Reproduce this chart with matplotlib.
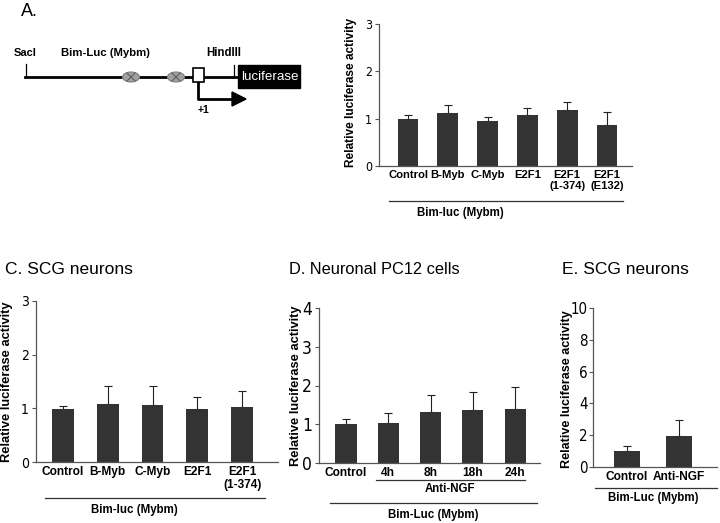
import numpy as np
import matplotlib
matplotlib.use("Agg")
import matplotlib.pyplot as plt
from matplotlib.patches import Ellipse, Rectangle, Polygon

# ---- data ----
a_labels = ["Control", "B-Myb", "C-Myb", "E2F1", "E2F1\n(1-374)", "E2F1\n(E132)"]
a_means = [1.00, 1.13, 0.95, 1.08, 1.18, 0.87]
a_errs = [0.08, 0.15, 0.08, 0.14, 0.18, 0.28]

c_labels = ["Control", "B-Myb", "C-Myb", "E2F1", "E2F1\n(1-374)"]
c_means = [0.99, 1.09, 1.07, 0.99, 1.03]
c_errs = [0.05, 0.32, 0.35, 0.22, 0.30]

d_labels = ["Control", "4h", "8h", "18h", "24h"]
d_means = [1.00, 1.03, 1.31, 1.37, 1.40]
d_errs = [0.13, 0.25, 0.44, 0.46, 0.57]

e_labels = ["Control", "Anti-NGF"]
e_means = [1.00, 1.97]
e_errs = [0.35, 0.98]

W, H = 720, 523
BAR = "#333333"
AX = "#555555"
BOLD = dict(family="Liberation Sans", weight="bold")

fig = plt.figure(figsize=(W / 100, H / 100), dpi=100)


def px_axes(left, right, top, bottom):
    return fig.add_axes([left / W, 1 - bottom / H, (right - left) / W, (bottom - top) / H])


def bar_panel(ax, labels, means, errs, ymax, yticks, xlim, width=0.5,
              ylab_size=9, tick_size=10, cat_size=8.7):
    x = np.arange(len(labels))
    ax.bar(x, means, width=width, color=BAR, zorder=2)
    ax.errorbar(x, means, yerr=[np.zeros(len(errs)), errs], fmt="none",
                ecolor="#222222", elinewidth=0.8, capsize=3, capthick=0.8, zorder=1)
    ax.set_xlim(*xlim)
    ax.set_ylim(0, ymax)
    ax.set_yticks(yticks)
    ax.set_yticklabels([str(v) for v in yticks], family="DejaVu Sans",
                       stretch="condensed", fontsize=tick_size)
    ax.set_xticks(x)
    ax.set_xticklabels(labels, fontsize=cat_size, linespacing=1.1, **BOLD)
    ax.tick_params(axis="x", length=0, pad=3)
    ax.tick_params(axis="y", length=3, width=0.8, color=AX, pad=2)
    for s in ["top", "right"]:
        ax.spines[s].set_visible(False)
    for s in ["left", "bottom"]:
        ax.spines[s].set_color(AX)
        ax.spines[s].set_linewidth(0.9)
    ax.set_ylabel("Relative luciferase activity", fontsize=ylab_size, **BOLD)


# panel A chart
axA = px_axes(379, 632, 24, 166)
bar_panel(axA, a_labels, a_means, a_errs, 3, [0, 1, 2, 3], (-0.73, 5.63), 0.52,
          ylab_size=8.6, tick_size=8.8, cat_size=8.1)
axA.yaxis.set_label_coords(-0.087, 0.52)

# panel C
axC = px_axes(36, 278, 301, 462)
bar_panel(axC, c_labels, c_means, c_errs, 3, [0, 1, 2, 3], (-0.6, 4.8), 0.49,
          ylab_size=9.3, tick_size=10, cat_size=8.6)
axC.yaxis.set_label_coords(-0.095, 0.5)

# panel D
axD = px_axes(319, 540, 308, 463)
bar_panel(axD, d_labels, d_means, d_errs, 4, [0, 1, 2, 3, 4], (-0.64, 4.59), 0.5,
          ylab_size=9.3, tick_size=12.5, cat_size=8.6)
axD.yaxis.set_label_coords(-0.077, 0.5)

# panel E
axE = px_axes(593, 717, 308, 467)
bar_panel(axE, e_labels, e_means, e_errs, 10, [0, 2, 4, 6, 8, 10], (-0.65, 1.73), 0.5,
          ylab_size=9.1, tick_size=10.8, cat_size=8.6)
axE.tick_params(axis="y", pad=1)
axE.yaxis.set_label_coords(-0.16, 0.49)

# overlay in pixel units for diagram, titles and group lines
ov = fig.add_axes([0, 0, 1, 1], zorder=5)
ov.set_xlim(0, W)
ov.set_ylim(H, 0)
ov.axis("off")
ov.patch.set_alpha(0)

# promoter diagram
ov.text(21, 12, "A.", fontsize=13, family="Liberation Sans", va="center")
ov.plot([25, 238], [77, 77], color="black", lw=2)
ov.plot([26, 26], [64, 77], color="black", lw=0.9)
ov.plot([234, 234], [65, 77], color="black", lw=0.9)
ov.text(14, 53, "SacI", fontsize=8, va="center", **BOLD)
ov.text(61, 53, "Bim-Luc (Mybm)", fontsize=8.2, va="center", **BOLD)
ov.text(206, 53, "HindIII", fontsize=8.3, va="center", **BOLD)
for cx in (131, 176):
    ov.add_patch(Ellipse((cx, 77), 17, 10, fc="#a0a0a0", ec="#808080", lw=0.8, zorder=3))
    ov.plot([cx - 4, cx + 4], [73, 81], color="#555555", lw=0.7, zorder=4)
    ov.plot([cx - 4, cx + 4], [81, 73], color="#555555", lw=0.7, zorder=4)
ov.plot([198, 198, 236], [82, 99, 99], color="black", lw=2)
ov.add_patch(Polygon([(232, 92), (246, 99), (232, 106)], closed=True, fc="black", ec="black"))
ov.add_patch(Rectangle((193, 68), 11, 14, fc="white", ec="black", lw=1.2, zorder=3))
ov.text(198, 110, "+1", fontsize=7.5, va="center", ha="left", **BOLD)
ov.add_patch(Rectangle((238, 65), 62, 23, fc="black", ec="black"))
ov.text(270, 77, "luciferase", fontsize=9.6, color="white", ha="center", va="center",
        family="Liberation Sans")

# group underlines and labels
ov.plot([389, 623], [201, 201], color="#333333", lw=0.9)
ov.text(417, 213, "Bim-luc (Mybm)", fontsize=8.3, va="center", **BOLD)

ov.plot([45, 265], [498, 498], color="#333333", lw=0.9)
ov.text(134, 510, "Bim-luc (Mybm)", fontsize=8.3, ha="center", va="center", **BOLD)

ov.plot([376, 525], [480, 480], color="#333333", lw=0.9)
ov.text(450, 489, "Anti-NGF", fontsize=8.3, ha="center", va="center", **BOLD)
ov.plot([330, 537], [503, 503], color="#333333", lw=0.9)
ov.text(433, 515, "Bim-Luc (Mybm)", fontsize=8.3, ha="center", va="center", **BOLD)

ov.plot([595, 717], [488, 488], color="#333333", lw=0.9)
ov.text(653, 498, "Bim-Luc (Mybm)", fontsize=8.3, ha="center", va="center", **BOLD)

# panel titles
ov.text(5, 270, "C. SCG neurons", fontsize=12.5, va="center", family="Liberation Sans")
ov.text(289, 270, "D. Neuronal PC12 cells", fontsize=11.8, va="center", family="Liberation Sans")
ov.text(562, 270, "E. SCG neurons", fontsize=12.5, va="center", family="Liberation Sans")

fig.savefig("out.png", dpi=100)
